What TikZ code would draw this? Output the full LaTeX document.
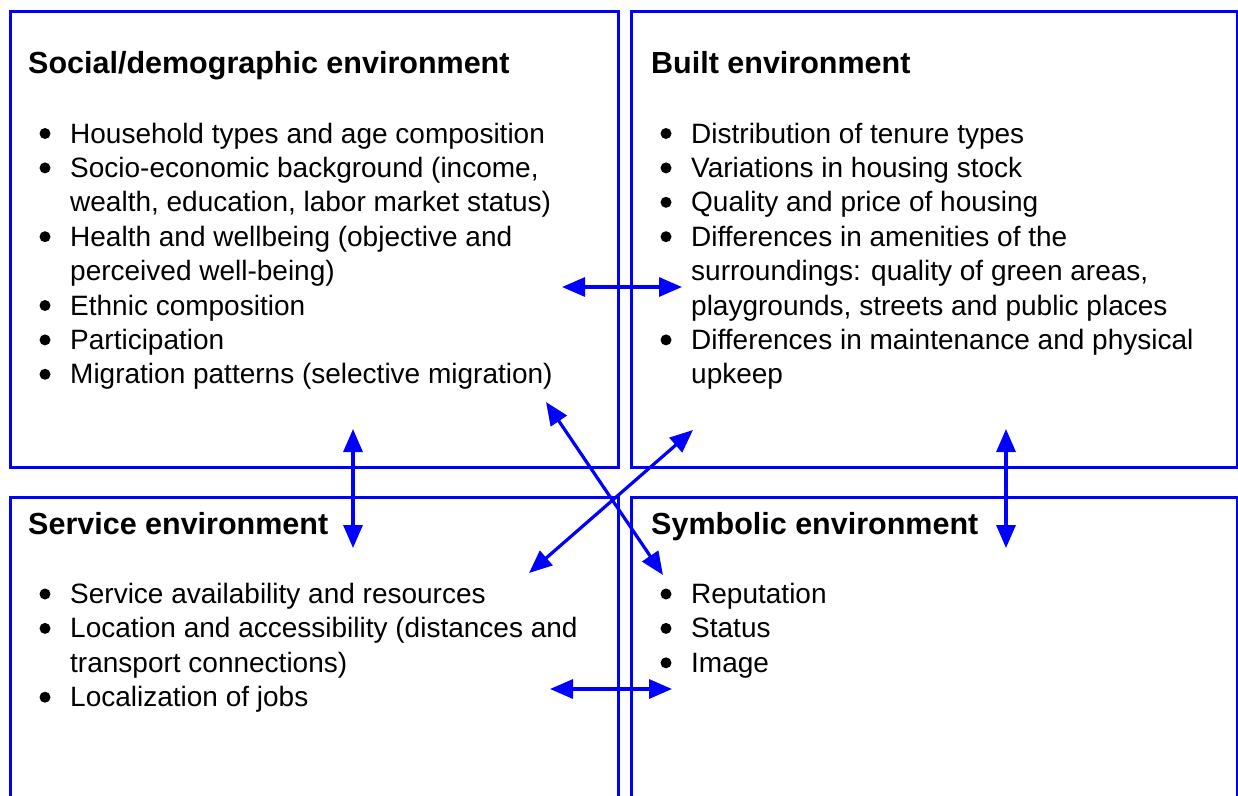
\documentclass[tikz,border=0pt]{standalone}
\usepackage{fontspec}
\setmainfont{Liberation Sans}
\usetikzlibrary{arrows.meta}
\definecolor{frameblue}{RGB}{0,0,255}
\newcommand{\bodyfont}{\fontsize{28pt}{34.4pt}\selectfont}
\newcommand{\headfont}{\fontsize{30.5pt}{36pt}\selectfont\bfseries}
\begin{document}
\begin{tikzpicture}[x=1pt,y=-1pt,
  panel/.style={draw=frameblue,line width=3pt},
  heading/.style={anchor=base west,inner sep=0pt,font=\headfont},
  itemlist/.style={anchor=base west,inner sep=0pt,font=\bodyfont,align=left},
  link/.style={draw=frameblue,line width=3.2pt,{Triangle[length=23pt,width=19pt]}-{Triangle[length=23pt,width=19pt]}},
  dot/.style={fill=black}]
\useasboundingbox (0,0) rectangle (1238,795);
\clip (0,0) rectangle (1238,795);

% four panels
\draw[panel] (10,11) rectangle (618,467);
\draw[panel] (631,11) rectangle (1237,467);
\draw[panel] (10,497) rectangle (618,830);
\draw[panel] (631,497) rectangle (1237,830);

% headings
\node[heading] (socialT) at (28,73) {Social/demographic environment};
\node[heading] (builtT) at (651,73) {Built environment};
\node[heading] (serviceT) at (28,534.5) {Service environment};
\node[heading] (symbolT) at (651,534.5) {Symbolic environment};

% item lists
\node[itemlist] (socialL) at (70,143) {\begin{tabular}[t]{@{}l@{}}
Household types and age composition\\
Socio-economic background (income,\\
wealth, education, labor market status)\\
Health and wellbeing (objective and\\
perceived well-being)\\
Ethnic composition\\
Participation\\
Migration patterns (selective migration)
\end{tabular}};
\node[itemlist] (builtL) at (691,143) {\begin{tabular}[t]{@{}l@{}}
Distribution of tenure types\\
Variations in housing stock\\
Quality and price of housing\\
Differences in amenities of the\\
surroundings: quality of green areas,\\
playgrounds, streets and public places\\
Differences in maintenance and physical\\
upkeep
\end{tabular}};
\node[itemlist] (serviceL) at (70,603.5) {\begin{tabular}[t]{@{}l@{}}
Service availability and resources\\
Location and accessibility (distances and\\
transport connections)\\
Localization of jobs
\end{tabular}};
\node[itemlist] (symbolL) at (691,603.5) {\begin{tabular}[t]{@{}l@{}}
Reputation\\
Status\\
Image
\end{tabular}};

% bullets (line index of each bulleted entry)
\foreach \i in {0,1,3,5,6,7} \fill[dot] (45,133.5+34.4*\i) circle[radius=5.5pt];
\foreach \i in {0,1,2,3,6} \fill[dot] (666,133.5+34.4*\i) circle[radius=5.5pt];
\foreach \i in {0,1,3} \fill[dot] (45,594+34.4*\i) circle[radius=5.5pt];
\foreach \i in {0,1,2} \fill[dot] (666,594+34.4*\i) circle[radius=5.5pt];

% connector end points
\coordinate (sb1) at (562,287);   \coordinate (sb2) at (682,287);
\coordinate (ss1) at (353,429);   \coordinate (ss2) at (353,548);
\coordinate (by1) at (1006,429);  \coordinate (by2) at (1006,548);
\coordinate (sv1) at (550,689);   \coordinate (sv2) at (672,689);
\coordinate (sy1) at (546,402);   \coordinate (sy2) at (663,575);
\coordinate (bs1) at (529,573);   \coordinate (bs2) at (693,430);

% two-way links
\draw[link] (sb1) -- (sb2);
\draw[link] (ss1) -- (ss2);
\draw[link] (by1) -- (by2);
\draw[link] (sv1) -- (sv2);
\draw[link] (sy1) -- (sy2);
\draw[link] (bs1) -- (bs2);
\end{tikzpicture}
\end{document}
